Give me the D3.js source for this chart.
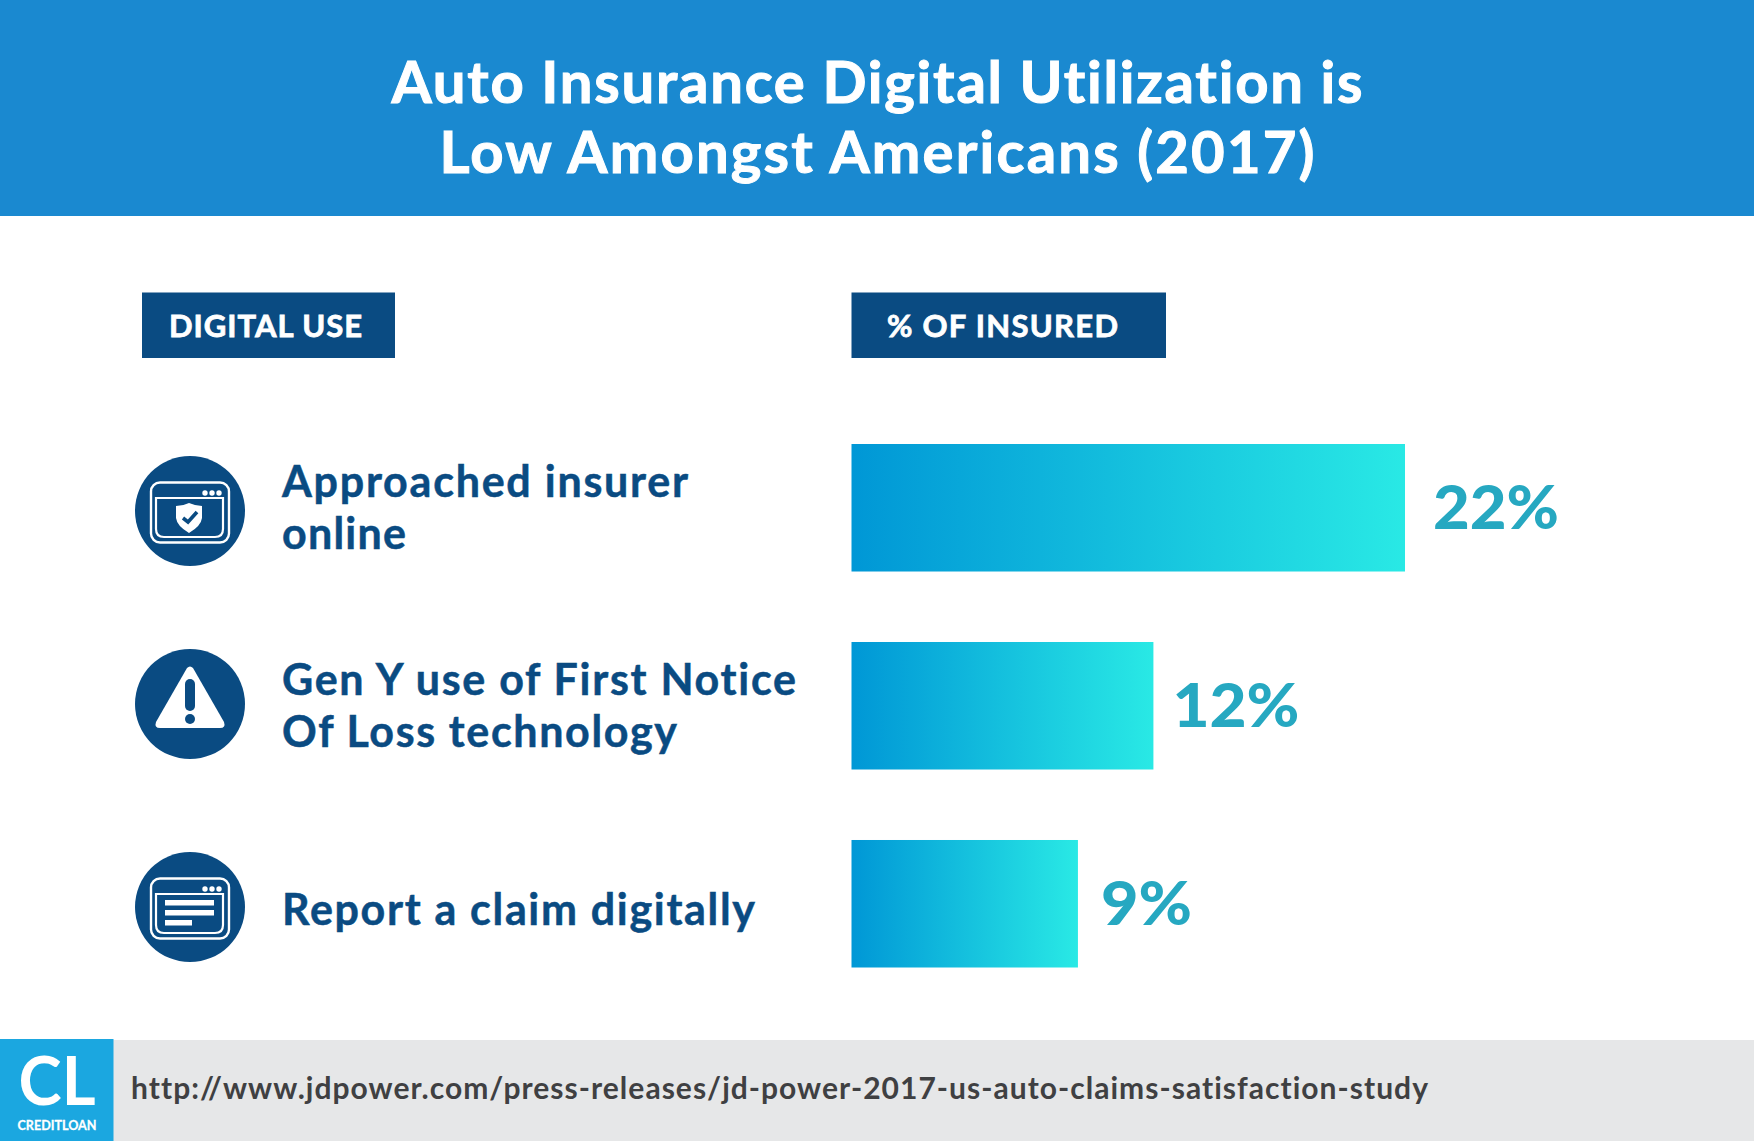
<!DOCTYPE html>
<html><head><meta charset="utf-8">
<script src="https://cdn.jsdelivr.net/npm/d3@7/dist/d3.min.js"></script>
<style>html,body{margin:0;padding:0;background:#fff}svg{display:block}text{font-family:Lato,"Open Sans",sans-serif;font-weight:700;font-variant-ligatures:none;paint-order:stroke}</style>
</head><body><svg id="c" width="1754" height="1141"></svg>
<script>
const titleLines = ["Auto Insurance Digital Utilization is", "Low Amongst Americans (2017)"];
const headerLabels = ["DIGITAL USE", "% OF INSURED"];
const categories = ["Approached insurer online", "Gen Y use of First Notice Of Loss technology", "Report a claim digitally"];
const categoryLines = [["Approached insurer", "online"], ["Gen Y use of First Notice", "Of Loss technology"], ["Report a claim digitally"]];
const values = [22, 12, 9];
const sourceUrl = "http://www.jdpower.com/press-releases/jd-power-2017-us-auto-claims-satisfaction-study";

const NAVY = "#0a4b82", W = 1754, H = 1141;
const svg = d3.select("#c");
const defs = svg.append("defs");

const x = d3.scaleLinear().domain([0, 22]).range([851.5, 1405]);
const y = d3.scaleBand().domain(categories).range([444, 967.5]).paddingInner(0.356);

// header
svg.append("rect").attr("width", W).attr("height", 216).attr("fill", "#1a89d0");
svg.selectAll("text.title").data(titleLines).join("text").attr("class", "title")
  .attr("x", 877).attr("y", (d, i) => 103 + i * 69.5)
  .attr("text-anchor", "middle").attr("fill", "#fff").attr("font-size", 58)
  .attr("stroke", "#fff").attr("stroke-width", 1)
  .attr("textLength", (d, i) => [971, 875][i]).attr("lengthAdjust", "spacing").text(d => d);

// column chips
const chips = [{x: 142, w: 253, tx: 169, tl: 193}, {x: 851.5, w: 314.5, tx: 887, tl: 231}];
const chipG = svg.selectAll("g.chip").data(headerLabels).join("g").attr("class", "chip");
chipG.append("rect").attr("x", (d, i) => chips[i].x).attr("y", 292.5).attr("width", (d, i) => chips[i].w).attr("height", 65.5).attr("fill", NAVY);
chipG.append("text").attr("x", (d, i) => chips[i].tx).attr("y", 337).attr("fill", "#fff").attr("font-size", 31)
  .attr("stroke", "#fff").attr("stroke-width", 0.8)
  .attr("textLength", (d, i) => chips[i].tl).attr("lengthAdjust", "spacing").text(d => d);

// gradients & bars
categories.forEach((c, i) => {
  const g = defs.append("linearGradient").attr("id", "g" + i).attr("x1", 0).attr("x2", 1).attr("y1", 0).attr("y2", 0);
  g.append("stop").attr("offset", 0).attr("stop-color", "#0097d6");
  g.append("stop").attr("offset", 1).attr("stop-color", "#29e9e5");
});
svg.selectAll("rect.bar").data(values).join("rect").attr("class", "bar")
  .attr("x", x(0)).attr("y", (d, i) => y(categories[i]))
  .attr("width", d => x(d) - x(0)).attr("height", y.bandwidth())
  .attr("fill", (d, i) => `url(#g${i})`);
const valueGap = [28, 19, 23], valueWidth = [126, 127, 91];
svg.selectAll("text.val").data(values).join("text").attr("class", "val")
  .attr("x", (d, i) => x(d) + valueGap[i]).attr("y", (d, i) => y(categories[i]) + y.bandwidth() / 2 + 21)
  .attr("fill", "#26a8c1").attr("font-size", 60).style("font-weight", 900)
  .attr("textLength", (d, i) => valueWidth[i]).attr("lengthAdjust", "spacingAndGlyphs").text(d => d + "%");

// row labels
const lineW = [[406, 124], [514, 395], [473]];
const baseY = [497, 695, 925];
categoryLines.forEach((lines, i) => {
  svg.selectAll("text.l" + i).data(lines).join("text").attr("class", "l" + i)
    .attr("x", 282).attr("y", (d, j) => baseY[i] + j * 52)
    .attr("fill", NAVY).attr("font-size", 43)
    .attr("stroke", NAVY).attr("stroke-width", 0.5)
    .attr("textLength", (d, j) => lineW[i][j]).attr("lengthAdjust", "spacing").text(d => d);
});

// icons
const cy = [511, 704, 907];
const icons = svg.selectAll("g.icon").data(categories).join("g").attr("class", "icon")
  .attr("transform", (d, i) => `translate(190,${cy[i]})`);
icons.append("circle").attr("r", 55).attr("fill", NAVY);
function windowFrame(g) {
  g.append("rect").attr("x", -39).attr("y", -28.5).attr("width", 78).attr("height", 60).attr("rx", 9)
    .attr("fill", "none").attr("stroke", "#fff").attr("stroke-width", 2.4);
  g.append("path").attr("d", "M-34,-13H33V18Q33,26 25,26H-26Q-34,26 -34,18Z")
    .attr("fill", "none").attr("stroke", "#fff").attr("stroke-width", 2.2);
  [15, 22, 29].forEach(cx => g.append("circle").attr("cx", cx).attr("cy", -18).attr("r", 2.7).attr("fill", "#fff"));
}
const ic0 = icons.filter((d, i) => i === 0).call(windowFrame);
ic0.append("path").attr("d", "M-1,-8Q6,-5 12,-5V7Q11,15 -1,22Q-13,15 -14,7V-5Q-7,-5 -1,-8Z").attr("fill", "#fff");
ic0.append("path").attr("d", "M-7,7L-2,11L7,1").attr("fill", "none").attr("stroke", NAVY).attr("stroke-width", 3.6);
const ic1 = icons.filter((d, i) => i === 1);
ic1.append("path").attr("d", "M-3,-36Q0,-39 3,-36L34,18Q36,24 30,24H-30Q-36,24 -34,18Z").attr("fill", "#fff");
ic1.append("rect").attr("x", -5).attr("y", -25).attr("width", 10).attr("height", 32).attr("rx", 5).attr("fill", NAVY);
ic1.append("circle").attr("cy", 15).attr("r", 5).attr("fill", NAVY);
const ic2 = icons.filter((d, i) => i === 2).call(windowFrame);
[[-25, -7, 49], [-25, 3, 49], [-25, 13, 27]].forEach(r =>
  ic2.append("rect").attr("x", r[0]).attr("y", r[1]).attr("width", r[2]).attr("height", 5.5).attr("fill", "#fff"));

// footer
svg.append("rect").attr("y", 1040).attr("width", W).attr("height", 101).attr("fill", "#e6e7e8");
svg.append("rect").attr("y", 1039).attr("width", 113.5).attr("height", 102).attr("fill", "#1ba7e0");
svg.append("text").attr("x", 57).attr("y", 1105).attr("text-anchor", "middle").attr("fill", "#fff")
  .attr("font-size", 66).attr("textLength", 77).attr("lengthAdjust", "spacingAndGlyphs").text("CL");
svg.append("text").attr("x", 57).attr("y", 1130).attr("text-anchor", "middle").attr("fill", "#fff")
  .attr("font-size", 14).attr("stroke", "#fff").attr("stroke-width", 0.3).attr("textLength", 79).attr("lengthAdjust", "spacingAndGlyphs").text("CREDITLOAN");
svg.append("text").attr("x", 131).attr("y", 1099).attr("fill", "#3f4042").attr("font-size", 30)
  .attr("textLength", 1297).attr("lengthAdjust", "spacing").text(sourceUrl);
</script></body></html>
